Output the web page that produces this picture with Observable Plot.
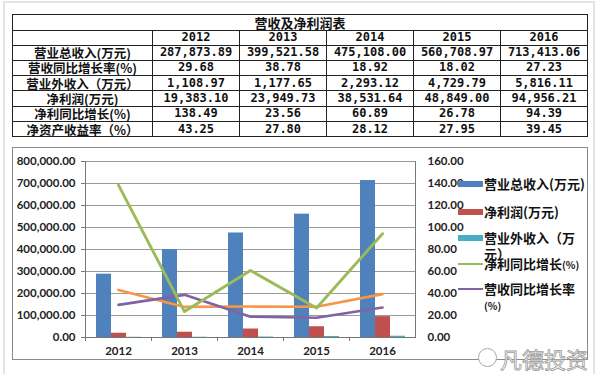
<!DOCTYPE html>
<html><head><meta charset="utf-8">
<script src="https://cdn.jsdelivr.net/npm/d3@7"></script>
<script src="https://cdn.jsdelivr.net/npm/@observablehq/plot@0.6"></script>
<style>
html,body{margin:0;padding:0;background:#fff;}
#page{position:relative;width:600px;height:374px;overflow:hidden;background:#fff;}
#frame{position:absolute;left:3px;top:1px;width:588px;height:380px;border:2px solid #e4e4e4;}
table{position:absolute;left:12px;top:14px;border-collapse:collapse;table-layout:fixed;width:575px;}
td{border:1px solid #222;padding:0;text-align:center;overflow:visible;white-space:nowrap;color:#111;}
td.lab{font-family:"Noto Sans CJK SC";font-weight:bold;font-size:12.5px;line-height:13px;}
td.num{font-family:"DejaVu Sans Mono";font-weight:bold;font-size:12px;line-height:13px;}
tr.title td{height:15px;font-family:"Noto Sans CJK SC";font-weight:bold;font-size:13px;line-height:15px;}
tr.yr td{height:13.5px;}
tr.row td{height:14.3px;}
#box{position:absolute;left:12px;top:147px;width:574px;height:211px;border:1px solid #8a8a8a;}
#chart{position:absolute;left:12px;top:147px;}
.lg{position:absolute;font-family:"Noto Sans CJK SC";font-weight:bold;font-size:13px;line-height:14px;color:#111;white-space:nowrap;}
.mk{position:absolute;left:458px;width:25px;}
.small{font-size:10px;font-family:"Noto Sans CJK SC";font-weight:bold;}
#wm{position:absolute;left:500px;top:342px;font-family:"Noto Sans CJK SC";font-size:22px;color:#fff;-webkit-text-stroke:0.8px #9a9a9a;}
#logo{position:absolute;left:478px;top:348px;width:17px;height:17px;border:1.5px solid #aaa;border-radius:50%;background:#fff;}
</style></head>
<body><div id="page">
<div id="frame"></div>
<div id="tbl"></div>
<div id="box"></div>
<div id="chart"></div>
<div id="legend"></div>
<div id="logo"></div>
<div id="wm">凡德投资</div>
</div>
<script>
const years = ["2012","2013","2014","2015","2016"];
const rowLabels = ["营业总收入(万元)","营收同比增长率(%)","营业外收入（万元）","净利润(万元)","净利同比增长(%)","净资产收益率（%）"];
const revenue = [287873.89,399521.58,475108.00,560708.97,713413.06];
const revenueGrowth = [29.68,38.78,18.92,18.02,27.23];
const nonOpIncome = [1108.97,1177.65,2293.12,4729.79,5816.11];
const netProfit = [19383.10,23949.73,38531.64,48849.00,94956.21];
const profitGrowth = [138.49,23.56,60.89,26.78,94.39];
const roe = [43.25,27.80,28.12,27.95,39.45];
const leftTicks = [0,100000,200000,300000,400000,500000,600000,700000,800000];
const rightTicks = [0,20,40,60,80,100,120,140,160];
const tableTitle = "营收及净利润表";

// table
const f2 = d3.format(",.2f");
const rows = [revenue, revenueGrowth, nonOpIncome, netProfit, profitGrowth, roe];
let html = `<table><colgroup><col style="width:140px">${years.map(()=>'<col style="width:87px">').join("")}</colgroup>`;
html += `<tr class="title"><td colspan="6">${tableTitle}</td></tr>`;
html += `<tr class="yr"><td class="lab"></td>${years.map(y=>`<td class="num">${y}</td>`).join("")}</tr>`;
rows.forEach((r,i)=>{
  html += `<tr class="row"><td class="lab">${rowLabels[i]}</td>${r.map(v=>`<td class="num">${f2(v)}</td>`).join("")}</tr>`;
});
html += "</table>";
document.getElementById("tbl").innerHTML = html;

// chart
const ratio = leftTicks[leftTicks.length-1] / rightTicks[rightTicks.length-1];
const data = years.map((y,i)=>({year:y, rev:revenue[i], np:netProfit[i], noi:nonOpIncome[i], pg:profitGrowth[i], rg:revenueGrowth[i], roe:roe[i]}));
const blue="#4F81BD", red="#C0504D", teal="#4BACC6", green="#9BBB59", purple="#8064A2", orange="#F79646";
const chart = Plot.plot({
  width: 576, height: 212,
  marginLeft: 73, marginRight: 173, marginTop: 14, marginBottom: 22,
  style: {fontFamily: "Lato", fontSize: "11.5px", fontWeight: "bold", color: "#222", background: "transparent"},
  x: {domain: years, padding: 0},
  y: {domain: [0, 800000]},
  marks: [
    Plot.gridY(leftTicks.slice(1), {stroke: "#9a9a9a", strokeOpacity: 1}),
    Plot.barY(data, {x: "year", y: "rev", fill: blue, insetLeft: 11, insetRight: 40}),
    Plot.barY(data, {x: "year", y: "np", fill: red, insetLeft: 26, insetRight: 25}),
    Plot.barY(data, {x: "year", y: "noi", fill: teal, insetLeft: 41, insetRight: 10}),
    Plot.line(data, {x: "year", y: d => d.roe * ratio, stroke: orange, strokeWidth: 2.6}),
    Plot.line(data, {x: "year", y: d => d.rg * ratio, stroke: purple, strokeWidth: 2.6}),
    Plot.line(data, {x: "year", y: d => d.pg * ratio, stroke: green, strokeWidth: 2.9}),
    Plot.ruleY([0], {stroke: "#777"}),
    Plot.frame({anchor: "left", stroke: "#777"}),
    Plot.frame({anchor: "right", stroke: "#777"}),
    Plot.ruleX(years, {x: d => d, y1: 0, y2: 0, insetBottom: -4, dx: -33, stroke: "#777"}),
    Plot.axisY({anchor: "left", ticks: leftTicks, tickFormat: d3.format(",.2f"), tickSize: 4, tickPadding: 6, label: null, stroke: "#777"}),
    Plot.axisY({anchor: "right", ticks: leftTicks, tickFormat: d => (d / ratio).toFixed(2), tickSize: 0, tickPadding: 12, label: null}),
    Plot.axisX({tickSize: 0, tickPadding: 9, label: null})
  ]
});
document.getElementById("chart").appendChild(chart);

// legend
const legendItems = [
  {label: "营业总收入(万元)", color: blue, type: "bar", y: 184},
  {label: "净利润(万元)", color: red, type: "bar", y: 212},
  {label: "营业外收入（万<br>元）", color: teal, type: "bar", y: 238},
  {label: "净利同比增长<span class='small'>(%)</span>", color: green, type: "line", y: 264},
  {label: "营收同比增长率<br><span class='small'>(%)</span>", color: purple, type: "line", y: 289}
];
const lg = document.getElementById("legend");
legendItems.forEach(it=>{
  const m = document.createElement("div");
  m.className = "mk";
  const h = it.type === "bar" ? 6 : 2.5;
  m.style.top = (it.y - h/2) + "px";
  m.style.height = h + "px";
  m.style.background = it.color;
  lg.appendChild(m);
  const t = document.createElement("div");
  t.className = "lg";
  t.style.left = "484px";
  t.style.top = (it.y - 8) + "px";
  t.style.lineHeight = "16px";
  t.innerHTML = it.label;
  lg.appendChild(t);
});
</script>
</body></html>
